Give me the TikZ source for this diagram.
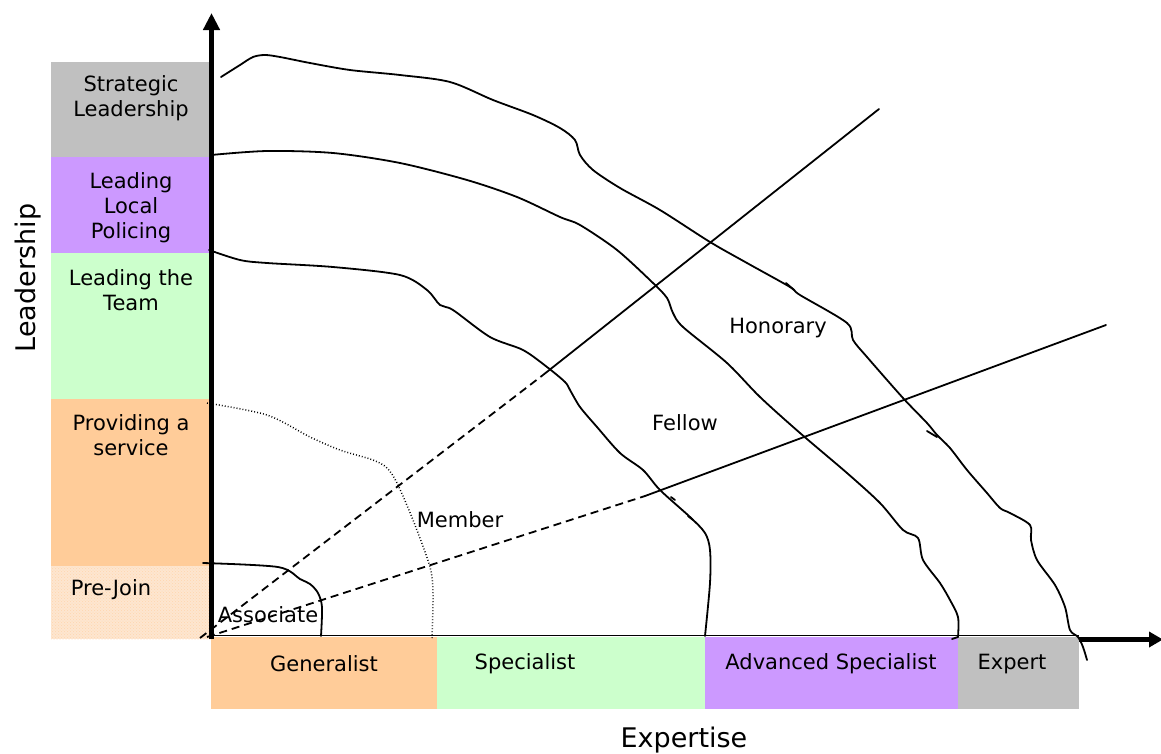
\documentclass[tikz,border=0pt]{standalone}
\usepackage{fontspec}
\setmainfont{DejaVu Sans}
\usetikzlibrary{arrows.meta,patterns}
\definecolor{cgray}{HTML}{C0C0C0}
\definecolor{cpurple}{HTML}{CC99FF}
\definecolor{cgreen}{HTML}{CCFFCC}
\definecolor{corange}{HTML}{FFCC99}
\definecolor{cpale}{HTML}{FDE6D0}
\begin{document}
\begin{tikzpicture}[x=1pt,y=-1pt,
  lbl/.style={font=\fontsize{21}{25}\selectfont, align=center, inner sep=0pt, text=black},
  axlbl/.style={font=\fontsize{27}{32}\selectfont, inner sep=0pt, text=black},
  curve/.style={line width=1.8pt, line join=round, line cap=round},
  dashline/.style={line width=1.8pt, dash pattern=on 8pt off 5pt},
  dotline/.style={line width=1.5pt, dash pattern=on 0.9pt off 2.1pt}]
\useasboundingbox (0,0) rectangle (1161,753);
\fill[white] (0,0) rectangle (1161,753);
% left level boxes
\fill[cgray]   (51,62)  rectangle (210,157);
\fill[cpurple] (51,157) rectangle (210,253);
\fill[cgreen]  (51,253) rectangle (210,399);
\fill[corange] (51,399) rectangle (210,566);
\fill[cpale]   (51,566) rectangle (210,639);
\fill[pattern=crosshatch dots, pattern color=corange!80] (51,566) rectangle (210,639);
\node[lbl] (sl) at (131,98.5) {Strategic\\Leadership};
\node[lbl] (llp) at (131,208) {Leading\\Local\\Policing};
\node[lbl] (ltt) at (131,290.5) {Leading the\\Team};
\node[lbl] (pas) at (131,435) {Providing a\\service};
\node[lbl] (pj) at (111,590) {Pre-Join};
% x axis (thick, under boxes)
\coordinate (xo) at (211,639.5);
\coordinate (xe) at (1163,639.5);
\draw[line width=5pt, -{Triangle[length=14pt,width=15pt]}] (xo) -- (xe);
% bottom boxes
\fill[corange] (211,637) rectangle (437,709);
\fill[cgreen]  (437,637) rectangle (705,709);
\fill[cpurple] (705,637) rectangle (958,709);
\fill[cgray]   (958,637) rectangle (1079,709);
\draw[line width=1.5pt] (211,635.5) -- (1079,635.5);
\node[lbl] (gen) at (324,664) {Generalist};
\node[lbl] (spe) at (525,664) {Specialist};
\node[lbl] (adv) at (831,664) {Advanced Specialist};
\node[lbl] (exp) at (1012,664) {Expert};
% axis labels
\node[axlbl] (xlab) at (684,740) {Expertise};
\node[axlbl, rotate=90] (ylab) at (28,278) {Leadership};
% diagonal lines
\draw[dashline] (200,638) -- (543,375);
\draw[curve] (543,375) -- (879,109);
\draw[dashline] (207,637) -- (645,496);
\draw[curve] (645,496) -- (1106,325);
% Honorary boundary
\draw[curve] plot[smooth, tension=0.5] coordinates {(221,77) (240,65) (253,57) (265,55) (280,57) (310,63) (350,70) (400,75) (450,82) (493,100) (533,115) (560,128) (575,140) (580,155) (593,170) (620,188) (660,210) (710,242) (747,263) (790,287) (800,295) (847,323) (853,340) (867,357) (903,398) (927,423) (937,435) (950,448) (967,470) (987,493) (1000,508) (1010,513) (1030,525) (1031,540) (1037,560) (1055,585) (1065,607) (1070,630) (1078,637) (1083,647) (1087,660)};
\draw[curve] (786,283) -- (794,290);
\draw[curve] (927,431) -- (937,437);
% Fellow boundary
\draw[curve] plot[smooth, tension=0.5] coordinates {(211,155) (267,151) (333,153) (400,163) (467,180) (517,197) (560,217) (580,225) (617,250) (653,283) (667,298) (673,313) (683,327) (727,363) (760,397) (800,433) (847,473) (880,503) (903,530) (918,538) (923,560) (940,583) (950,600) (958,617) (958,637)};
\draw[curve] (958,637) -- (952,639);
% Member boundary
\draw[curve] plot[smooth, tension=0.5] coordinates {(209,250) (240,260) (267,263) (333,267) (400,275) (427,290) (440,305) (453,310) (490,337) (523,350) (547,367) (565,382) (570,390) (580,407) (597,427) (620,453) (643,470) (660,490) (690,517) (705,533) (710,550) (710,583) (705,636)};
\draw[curve] (671,497) -- (675,500);
\draw[curve] (688,516) -- (693,520);
% Associate boundary
\draw[curve] plot[smooth, tension=0.5] coordinates {(203,563) (278,567) (300,579) (310,584) (318,593) (322,607) (321,636)};
% dotted Member boundary
\draw[dotline] plot[smooth, tension=0.5] coordinates {(207,403) (267,415) (310,437) (340,450) (373,460) (387,468) (397,483) (413,520) (430,567) (433,593) (432,638)};
% y axis
\coordinate (yo) at (211.5,639);
\coordinate (ye) at (211.5,13);
\draw[line width=5pt, -{Triangle[length=17pt,width=16pt]}] (yo) -- (ye);
% region labels
\node[lbl] (assoc) at (268,615) {Associate};
\node[lbl] (memb) at (460,520) {Member};
\node[lbl] (fell) at (685,423) {Fellow};
\node[lbl] (hon) at (778,328) {Honorary};
\end{tikzpicture}
\end{document}
